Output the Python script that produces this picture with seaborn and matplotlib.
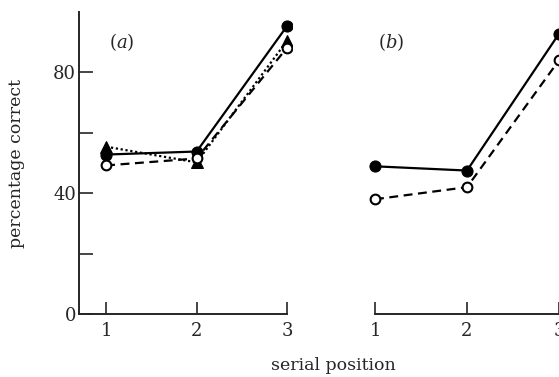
import matplotlib
matplotlib.use("Agg")
import matplotlib.pyplot as plt
import seaborn as sns

positions = [1, 2, 3]

# panel (a)
a_filled = [52.8, 53.8, 95.4]
a_triangle = [55.4, 50.2, 90.5]
a_open = [49.2, 51.5, 88.2]

# panel (b)
b_filled = [48.9, 47.5, 92.8]
b_open = [38.0, 42.0, 84.0]

sns.set_style("white")
plt.rcParams["font.family"] = ["DejaVu Serif"]
plt.rcParams["mathtext.fontset"] = "dejavuserif"

fig = plt.figure(figsize=(5.59, 3.77), dpi=100)
W, H = 559, 377
# axes in pixel coords: left, bottom(from top), right, top
ax_a = fig.add_axes([79 / W, (H - 314) / H, (0.70 + 2.35) * 0 + (3.05 - 0.70) * 90.5 / W, (314 - 12) / H])
ax_b = fig.add_axes([(375 - 0.1 * 92) / W, (H - 314) / H, 2.2 * 92 / W, (314 - 12) / H])

lw = 1.6
sns.lineplot(x=positions, y=a_filled, ax=ax_a, color="black", lw=lw, marker="o",
             markersize=8, markerfacecolor="black", markeredgecolor="black")
sns.lineplot(x=positions, y=a_triangle, ax=ax_a, color="black", lw=lw, linestyle=(0, (1, 1.2)),
             marker="^", markersize=8, markerfacecolor="black", markeredgecolor="black")
sns.lineplot(x=positions, y=a_open, ax=ax_a, color="black", lw=lw, linestyle=(0, (4, 2.5)),
             marker="o", markersize=7, markerfacecolor="white", markeredgecolor="black",
             markeredgewidth=1.5)

sns.lineplot(x=positions, y=b_filled, ax=ax_b, color="black", lw=lw, marker="o",
             markersize=8, markerfacecolor="black", markeredgecolor="black", clip_on=False)
sns.lineplot(x=positions, y=b_open, ax=ax_b, color="black", lw=lw, linestyle=(0, (4, 2.5)),
             marker="o", markersize=7, markerfacecolor="white", markeredgecolor="black",
             markeredgewidth=1.5, clip_on=False)

for ax in (ax_a, ax_b):
    ax.set_ylim(0, 100)
    ax.set_xticks(positions)
    ax.set_xticklabels(["1", "2", "3"], fontsize=13)
    ax.tick_params(axis="x", direction="in", length=9, width=1.2, pad=6, bottom=True)
    ax.spines["top"].set_visible(False)
    ax.spines["right"].set_visible(False)
    ax.spines["bottom"].set_linewidth(1.4)
    ax.set_xlabel("")
    ax.set_ylabel("")

ax_a.set_xlim(0.70, 3.05)
ax_a.spines["bottom"].set_bounds(0.70, 3)
ax_a.spines["left"].set_linewidth(1.4)
ax_a.spines["left"].set_bounds(0, 100)
ax_a.set_yticks([0, 20, 40, 60, 80])
ax_a.set_yticklabels(["0", "", "40", "", "80"], fontsize=13)
ax_a.tick_params(axis="y", direction="in", length=10, width=1.2, pad=2, left=True)

ax_b.set_xlim(0.90, 3.10)
ax_b.spines["bottom"].set_bounds(1, 3)
ax_b.spines["left"].set_visible(False)
ax_b.set_yticks([])

ax_a.text(1.03, 90, "($a$)", fontsize=13, ha="left", va="center")
ax_b.text(1.03, 90, "($b$)", fontsize=13, ha="left", va="center")

fig.text(333 / W, (H - 365) / H, "serial position", fontsize=12.5, ha="center", va="center")
fig.text(17 / W, (H - 163) / H, "percentage correct", fontsize=12.5, ha="center",
         va="center", rotation=90)

fig.savefig("out.png", dpi=100)
